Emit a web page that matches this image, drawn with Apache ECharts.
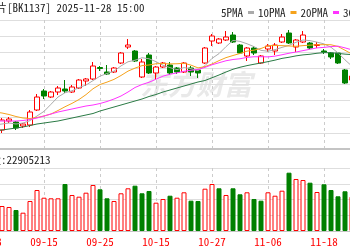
<!DOCTYPE html>
<html><head><meta charset="utf-8">
<script src="https://cdn.jsdelivr.net/npm/echarts@6/dist/echarts.min.js"></script>
<style>html,body{margin:0;padding:0;background:#fff}#c{width:350px;height:250px}</style>
</head><body><div id="c"></div>
<script>
const titleText = '存储芯片[BK1137] 2025-11-28 15:00';
const volLabel = '成交量:22905213';
const maNames = ['5PMA', '10PMA', '20PMA', '30PMA'];
const dates = ['09-03','09-04','09-05','09-08','09-09','09-10','09-11','09-12','09-15','09-16','09-17','09-18','09-19','09-22','09-23','09-24','09-25','09-26','09-29','09-30','10-09','10-10','10-13','10-14','10-15','10-16','10-17','10-20','10-21','10-22','10-23','10-24','10-27','10-28','10-29','10-30','10-31','11-03','11-04','11-05','11-06','11-07','11-10','11-11','11-12','11-13','11-14','11-17','11-18','11-19','11-20','11-21','11-24'];
const opens  = [null,null,1700,1772,1764,1732,1740,1860,2012,1964,2004,2028,2004,2036,2092,2108,2200,2164,2164,2236,2364,2332,2124,2300,2156,2204,2220,2196,2164,2196,2180,2236,2412,2396,2420,2460,2380,2292,2356,2236,2348,2332,2404,2476,2364,2404,2396,2376,2332,2316,2316,2180,2100];
const closes = [null,null,1780,1788,1716,1748,1844,1964,1972,2004,2036,2012,2044,2100,2108,2212,2192,2148,2196,2316,2380,2252,2244,2156,2204,2236,2156,2164,2236,2164,2156,2356,2452,2428,2444,2404,2316,2356,2316,2292,2372,2380,2444,2396,2420,2460,2356,2384,2324,2284,2236,2076,2132];
const lows   = [null,null,1676,1756,1700,1716,1724,1852,1948,1956,1980,1996,1996,2028,2052,2100,2172,2140,2156,2228,2348,2244,2116,2148,2100,2196,2140,2148,2156,2132,2116,2228,2372,2388,2412,2396,2308,2252,2300,2228,2324,2300,2396,2388,2324,2396,2348,2356,2308,2268,2228,2068,2084];
const highs  = [null,null,1796,1804,1772,1756,1860,1988,2028,2012,2052,2100,2060,2108,2116,2244,2212,2220,2204,2324,2428,2340,2268,2316,2212,2244,2244,2204,2244,2212,2188,2364,2468,2436,2492,2484,2388,2364,2372,2300,2388,2396,2468,2500,2428,2492,2404,2404,2348,2324,2324,2188,2148];
const volumes = [null,null,1587,1524,1333,1162,1905,2603,2114,2076,2076,2984,2286,2178,2432,2921,2648,2076,1905,2394,2711,2876,2394,2540,1797,2032,2241,2114,2457,1924,1905,2686,2984,2711,2286,2711,2330,2457,2032,1924,2457,2241,2559,3702,3302,3238,3067,2476,2965,2603,2203,2521,2178];
const volUp = [0,0,1,1,-1,1,1,1,1,1,1,-1,1,1,1,1,-1,-1,1,1,1,-1,-1,-1,1,1,-1,1,1,-1,-1,1,1,-1,1,-1,-1,1,-1,-1,1,1,1,-1,1,1,-1,1,-1,-1,-1,-1,1];
const ma5  = ['-',1740,1748,1756,1748,1756,1775,1812,1849,1906,1964,1998,2014,2039,2060,2095,2131,2152,2171,2213,2246,2258,2278,2270,2247,2218,2199,2183,2199,2191,2175,2215,2273,2311,2367,2417,2409,2390,2367,2337,2330,2343,2361,2377,2402,2420,2415,2403,2389,2362,2317,2261,2210];
const ma10 = ['-',1844,1836,1824,1808,1796,1792,1800,1812,1828,1856,1886,1913,1944,1983,2030,2064,2083,2105,2136,2171,2195,2215,2220,2230,2232,2229,2230,2234,2219,2197,2207,2228,2255,2279,2296,2312,2331,2339,2352,2374,2376,2375,2372,2370,2375,2379,2382,2383,2382,2368,2338,2307];
const ma20 = ['-',1772,1772,1772,1772,1776,1784,1796,1812,1828,1844,1856,1868,1880,1892,1900,1912,1928,1948,1972,2004,2040,2064,2082,2106,2131,2146,2157,2170,2178,2184,2201,2222,2238,2254,2264,2270,2281,2286,2286,2285,2291,2302,2314,2324,2335,2346,2357,2361,2367,2371,2357,2341];
const ma30 = ['-',1692,1700,1708,1716,1724,1736,1748,1756,1764,1772,1784,1796,1808,1820,1832,1852,1868,1884,1900,1916,1932,1948,1968,1984,2004,2020,2036,2052,2068,2084,2096,2118,2140,2164,2186,2202,2215,2226,2236,2247,2259,2273,2282,2293,2301,2306,2314,2319,2318,2313,2307,2303];

const FONT = '"Noto Sans Mono CJK SC", "Noto Sans CJK SC", "DejaVu Sans Mono", monospace';
const RED = '#ff0000', GREEN = '#008000';
const maColors = ['#aaaaaa', '#f5a21b', '#ff33ff', '#2a7a45'];

const candleData = dates.map((d, k) => opens[k] == null ? '-' : [opens[k], closes[k], lows[k], highs[k]]);
const volData = dates.map((d, k) => volumes[k] == null ? '-' : {
  value: volumes[k],
  itemStyle: volUp[k] > 0 ? {color: '#ffffff', borderColor: RED, borderWidth: 1} : {color: GREEN, borderColor: GREEN, borderWidth: 1}
});

const splitX = {show: true, interval: 7, lineStyle: {color: '#cccccc', type: [3, 3], width: 1}};
const splitY = {show: true, lineStyle: {color: '#dedede', width: 1}};

const chart = echarts.init(document.getElementById('c'));
chart.setOption({
  animation: false,
  backgroundColor: '#ffffff',
  graphic: [
    {type: 'text', x: 140, y: 70, z: 0, style: {text: '东方财富', font: 'bold italic 28px "Noto Sans CJK SC"', fill: '#e9e9e9'}},
    {type: 'text', x: -37, y: 2, style: {text: titleText, font: '11px ' + FONT, fill: '#222222'}},
    {type: 'text', x: -32, y: 154, style: {text: volLabel, font: '11px ' + FONT, fill: '#222222'}}
  ],
  legend: {
    data: maNames, left: 216, top: 2, width: 400, align: 'right', icon: 'rect',
    itemWidth: 6, itemHeight: 3, itemGap: 4,
    textStyle: {fontFamily: FONT, fontSize: 11, color: '#222222', padding: 0}
  },
  grid: [
    {left: -12, right: -2, top: 20, height: 129, outerBoundsMode: 'none', containLabel: false},
    {left: -12, right: -2, top: 168, height: 63, outerBoundsMode: 'none', containLabel: false}
  ],
  xAxis: [
    {type: 'category', gridIndex: 0, data: dates, boundaryGap: false,
     axisLine: {show: true, lineStyle: {color: '#c4c4c4', width: 2}}, axisTick: {show: false},
     axisLabel: {show: false}, splitLine: splitX},
    {type: 'category', gridIndex: 1, data: dates, boundaryGap: false,
     axisLine: {show: true, lineStyle: {color: '#c4c4c4', width: 1}}, axisTick: {show: false},
     axisLabel: {show: true, interval: 7, color: RED, fontFamily: FONT, fontSize: 11, margin: 5},
     splitLine: splitX}
  ],
  yAxis: [
    {type: 'value', gridIndex: 0, min: 1548, max: 2580, interval: 129,
     axisLine: {show: false}, axisTick: {show: false}, axisLabel: {show: false}, splitLine: splitY},
    {type: 'value', gridIndex: 1, min: 0, max: 4000, interval: 1000,
     axisLine: {show: false}, axisTick: {show: false}, axisLabel: {show: false}, splitLine: splitY}
  ],
  series: [
    {type: 'candlestick', name: 'K', xAxisIndex: 0, yAxisIndex: 0, data: candleData, barWidth: 5,
     itemStyle: {color: '#ffffff', color0: GREEN, borderColor: RED, borderColor0: GREEN, borderWidth: 1}, z: 3},
    ...[ma5, ma10, ma20, ma30].map((arr, j) => ({
      type: 'line', name: maNames[j], xAxisIndex: 0, yAxisIndex: 0, data: arr,
      symbol: 'none', smooth: false, z: 4,
      lineStyle: {color: maColors[j], width: 1}, itemStyle: {color: maColors[j]}
    })),
    {type: 'bar', name: 'VOL', xAxisIndex: 1, yAxisIndex: 1, data: volData, barWidth: 5, z: 3}
  ]
});
</script></body></html>
